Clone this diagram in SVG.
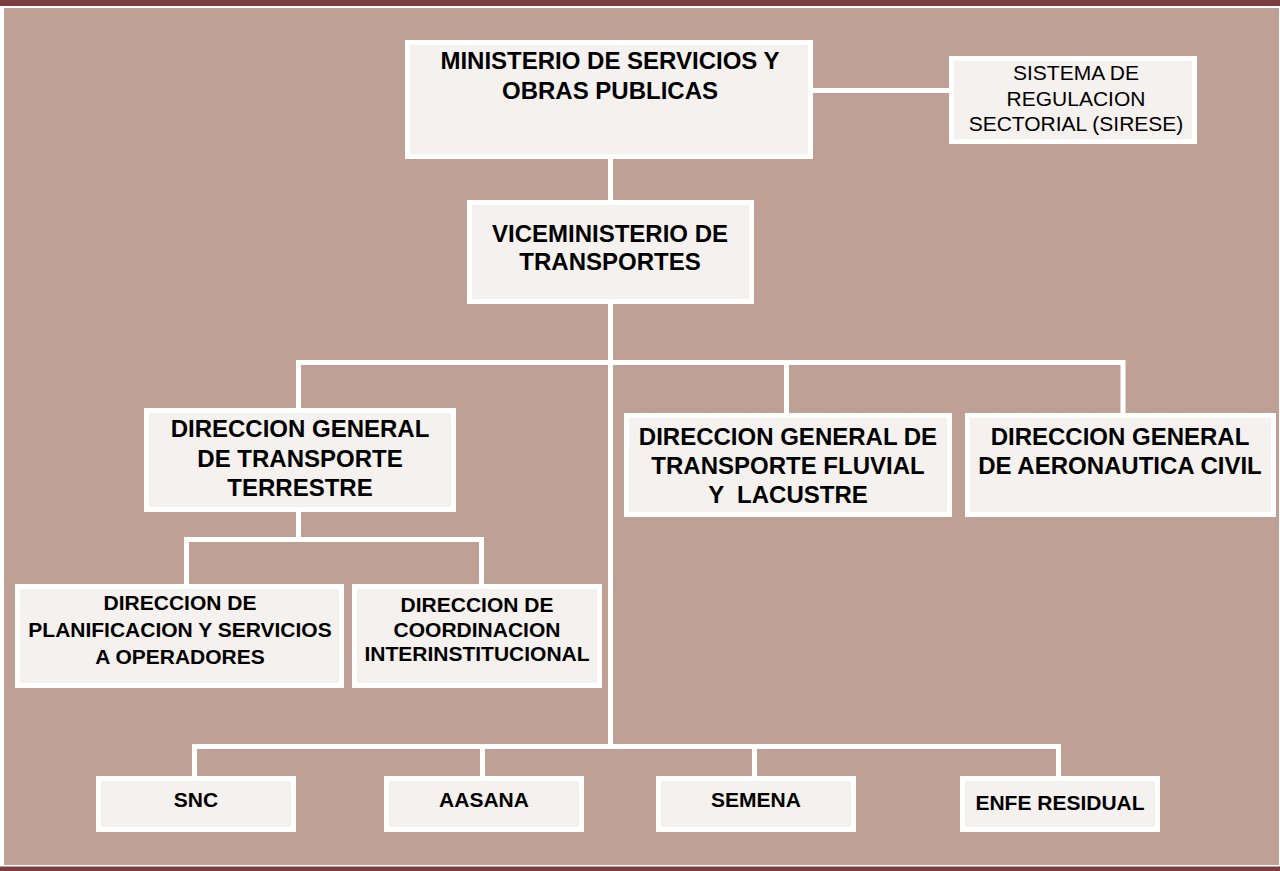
<svg xmlns="http://www.w3.org/2000/svg" width="1280" height="871" viewBox="0 0 1280 871">
<style>
.box{fill:#f5f1ee;stroke:#ffffff;stroke-width:5}
.t{font-family:"Liberation Sans",Arial,sans-serif;font-weight:bold;fill:#000;text-anchor:middle}
.b24{font-size:24px}
.b21{font-size:21px}
.r21{font-family:"Liberation Sans",Arial,sans-serif;font-size:21px;fill:#000;text-anchor:middle}
.c{fill:none;stroke:#ffffff;stroke-width:5;stroke-linecap:square;stroke-linejoin:miter}
</style>
<rect x="0" y="0" width="1280" height="871" fill="#ffffff"/>
<rect x="0" y="0" width="1280" height="6" fill="#7b3e40"/>
<rect x="4" y="8" width="1275" height="857" fill="#bea094"/>
<rect x="0" y="866.5" width="1280" height="4.5" fill="#7b3e40"/>
<g id="connectors">
<path class="c" d="M610.5 161 V198"/>
<path class="c" d="M815 90.5 H947"/>
<path class="c" d="M610.5 306 V746.5"/>
<path class="c" d="M298.5 406 V362.5 H1123 V411"/>
<path class="c" d="M786.5 362.5 V411"/>
<path class="c" d="M298.5 514 V539.5"/>
<path class="c" d="M186.5 582 V539.5 H481.5 V582"/>
<path class="c" d="M194.5 774 V746.5 H1058.5 V774"/>
<path class="c" d="M482.5 746.5 V774"/>
<path class="c" d="M754.5 746.5 V774"/>
</g>
<g id="ministerio">
<rect class="box" x="407.5" y="42.5" width="403" height="114"/>
<text class="t b24" x="610" y="69">MINISTERIO DE SERVICIOS Y</text>
<text class="t b24" x="610" y="99">OBRAS PUBLICAS</text>
</g>
<g id="sirese">
<rect class="box" x="951.5" y="58.5" width="243" height="83"/>
<text class="r21" x="1076" y="80">SISTEMA DE</text>
<text class="r21" x="1076" y="106">REGULACION</text>
<text class="r21" x="1076" y="131">SECTORIAL (SIRESE)</text>
</g>
<g id="viceministerio">
<rect class="box" x="469.5" y="202.5" width="282" height="99"/>
<text class="t b24" x="610" y="242">VICEMINISTERIO DE</text>
<text class="t b24" x="610" y="270">TRANSPORTES</text>
</g>
<g id="dg-terrestre">
<rect class="box" x="146.5" y="410.5" width="307" height="99"/>
<text class="t b24" x="300" y="437">DIRECCION GENERAL</text>
<text class="t b24" x="300" y="467">DE TRANSPORTE</text>
<text class="t b24" x="300" y="496">TERRESTRE</text>
</g>
<g id="dg-fluvial">
<rect class="box" x="626.5" y="415.5" width="323" height="99"/>
<text class="t b24" x="788" y="445">DIRECCION GENERAL DE</text>
<text class="t b24" x="788" y="474">TRANSPORTE FLUVIAL</text>
<text class="t b24" x="788" y="503" xml:space="preserve">Y  LACUSTRE</text>
</g>
<g id="dg-aeronautica">
<rect class="box" x="967.5" y="415.5" width="306" height="99"/>
<text class="t b24" x="1120" y="445">DIRECCION GENERAL</text>
<text class="t b24" x="1120" y="474">DE AERONAUTICA CIVIL</text>
</g>
<g id="planificacion">
<rect class="box" x="17.5" y="586.5" width="324" height="99"/>
<text class="t b21" x="180" y="610">DIRECCION DE</text>
<text class="t b21" x="180" y="637">PLANIFICACION Y SERVICIOS</text>
<text class="t b21" x="180" y="664">A OPERADORES</text>
</g>
<g id="coordinacion">
<rect class="box" x="354.5" y="586.5" width="245" height="99"/>
<text class="t b21" x="477" y="612">DIRECCION DE</text>
<text class="t b21" x="477" y="637">COORDINACION</text>
<text class="t b21" x="477" y="661">INTERINSTITUCIONAL</text>
</g>
<g id="snc">
<rect class="box" x="98.5" y="778.5" width="195" height="51"/>
<text class="t b21" x="196" y="807">SNC</text>
</g>
<g id="aasana">
<rect class="box" x="386.5" y="778.5" width="195" height="51"/>
<text class="t b21" x="484" y="807">AASANA</text>
</g>
<g id="semena">
<rect class="box" x="658.5" y="778.5" width="195" height="51"/>
<text class="t b21" x="756" y="807">SEMENA</text>
</g>
<g id="enfe">
<rect class="box" x="962.5" y="778.5" width="195" height="51"/>
<text class="t b21" x="1060" y="810">ENFE RESIDUAL</text>
</g>
</svg>
